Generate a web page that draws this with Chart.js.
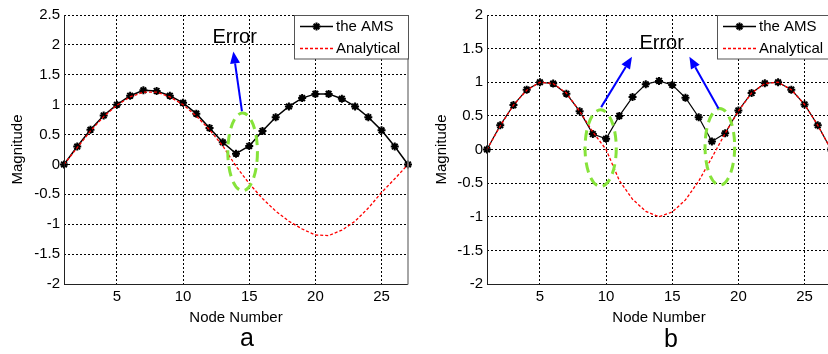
<!DOCTYPE html>
<html>
<head>
<meta charset="utf-8">
<script src="https://cdn.jsdelivr.net/npm/chart.js@4.4.0/dist/chart.umd.min.js"></script>
<style>
html, body { margin: 0; padding: 0; background: #fff; overflow: hidden; width: 828px; height: 354px; }
canvas { position: absolute; top: 0; }
#chartA { left: 0; }
#chartB { left: 414px; }
.panel-label { position: absolute; font: 25px "Liberation Sans", Arial, sans-serif; color: #000; transform: translate(-50%, -50%); line-height: normal; }
</style>
</head>
<body>
<canvas id="chartA" width="414" height="354"></canvas>
<canvas id="chartB" width="423" height="354"></canvas>
<div class="panel-label" style="left:247px;top:337px">a</div>
<div class="panel-label" style="left:671px;top:338px">b</div>
<script>
// ---- data ----
const nodes = [1, 2, 3, 4, 5, 6, 7, 8, 9, 10, 11, 12, 13, 14, 15, 16, 17, 18, 19, 20, 21, 22, 23, 24, 25, 26, 27];
const xTicks = [5, 10, 15, 20, 25];
const yTicksA = [-2, -1.5, -1, -0.5, 0, 0.5, 1, 1.5, 2, 2.5];
const yTicksB = [-2, -1.5, -1, -0.5, 0, 0.5, 1, 1.5, 2];

const amsA = [0, 0.3, 0.58, 0.82, 1.0, 1.15, 1.24, 1.23, 1.15, 1.03, 0.85, 0.61, 0.37, 0.18, 0.31, 0.56, 0.79, 0.97, 1.11, 1.18, 1.18, 1.1, 0.97, 0.79, 0.57, 0.3, 0];
const analyticalA = [0, 0.28, 0.56, 0.8, 0.99, 1.13, 1.21, 1.21, 1.13, 1.0, 0.81, 0.58, 0.31, -0.03, -0.32, -0.57, -0.78, -0.95, -1.08, -1.18, -1.19, -1.1, -0.95, -0.73, -0.47, -0.24, 0];

const amsB = [0, 0.36, 0.66, 0.89, 1.0, 0.98, 0.83, 0.57, 0.23, 0.16, 0.5, 0.78, 0.97, 1.02, 0.96, 0.77, 0.48, 0.12, 0.24, 0.58, 0.84, 0.985, 1.0, 0.89, 0.67, 0.36, 0];
const analyticalB = [0, 0.35, 0.66, 0.88, 1.0, 0.98, 0.84, 0.57, 0.26, 0, -0.46, -0.74, -0.92, -1.0, -0.93, -0.75, -0.47, -0.12, 0.24, 0.57, 0.84, 0.98, 1.0, 0.89, 0.67, 0.36, 0];

const seriesNames = ['the AMS', 'Analytical'];

// annotation spots, in data units
const notesA = {
    text: { x: 13.9, y: 2.12 },
    arrows: [{ from: [14.45, 0.89], to: [13.8, 1.89] }],
    ellipses: [{ x: 14.5, y: 0.21, rx: 1.12, ry: 0.65 }]
};
const notesB = {
    text: { x: 14.2, y: 1.58 },
    arrows: [{ from: [9.63, 0.63], to: [11.96, 1.38] }, { from: [18.5, 0.61], to: [16.3, 1.38] }],
    ellipses: [{ x: 9.59, y: 0.02, rx: 1.18, ry: 0.57 }, { x: 18.6, y: 0.04, rx: 1.12, ry: 0.57 }]
};

const FONT = '"Liberation Sans", Arial, sans-serif';

// ---- plugin: axis box, legend, annotations ----
const decorPlugin = {
    id: 'decor',
    afterDraw(chart, args, opts) {
        const { ctx, chartArea: a, scales: { x, y } } = chart;
        ctx.save();

        // axes box
        ctx.setLineDash([]);
        ctx.strokeStyle = '#222';
        ctx.lineWidth = 1;
        ctx.beginPath();
        ctx.moveTo(a.left + 0.5, a.top);
        ctx.lineTo(a.left + 0.5, a.bottom + 0.5);
        ctx.lineTo(a.right, a.bottom + 0.5);
        ctx.stroke();
        ctx.strokeStyle = '#888';
        ctx.lineWidth = 1.5;
        ctx.beginPath();
        ctx.moveTo(a.right, a.top);
        ctx.lineTo(a.right, a.bottom + 0.5);
        ctx.stroke();

        // green dashed ellipses
        ctx.strokeStyle = '#86e33a';
        ctx.lineWidth = 3;
        ctx.setLineDash([10, 6]);
        opts.notes.ellipses.forEach(e => {
            const cx = x.getPixelForValue(e.x), cy = y.getPixelForValue(e.y);
            const rx = Math.abs(x.getPixelForValue(e.x + e.rx) - cx);
            const ry = Math.abs(y.getPixelForValue(e.y + e.ry) - cy);
            ctx.beginPath();
            ctx.ellipse(cx, cy, rx, ry, 0, 0, Math.PI * 2);
            ctx.stroke();
        });

        // blue arrows
        ctx.setLineDash([]);
        ctx.strokeStyle = '#0000ff';
        ctx.fillStyle = '#0000ff';
        ctx.lineWidth = 2;
        opts.notes.arrows.forEach(ar => {
            const x1 = x.getPixelForValue(ar.from[0]), y1 = y.getPixelForValue(ar.from[1]);
            const x2 = x.getPixelForValue(ar.to[0]), y2 = y.getPixelForValue(ar.to[1]);
            const ang = Math.atan2(y2 - y1, x2 - x1);
            const hl = 12, hw = 5;
            const bx = x2 - hl * Math.cos(ang), by = y2 - hl * Math.sin(ang);
            ctx.beginPath();
            ctx.moveTo(x1, y1);
            ctx.lineTo(bx, by);
            ctx.stroke();
            ctx.beginPath();
            ctx.moveTo(x2, y2);
            ctx.lineTo(bx + hw * Math.sin(ang), by - hw * Math.cos(ang));
            ctx.lineTo(bx - hw * Math.sin(ang), by + hw * Math.cos(ang));
            ctx.closePath();
            ctx.fill();
        });

        // "Error" label
        ctx.fillStyle = '#000';
        ctx.font = '20px ' + FONT;
        ctx.textAlign = 'center';
        ctx.textBaseline = 'middle';
        ctx.fillText('Error', x.getPixelForValue(opts.notes.text.x), y.getPixelForValue(opts.notes.text.y));

        // legend box
        const bw = 114, bh = 43.5;
        const bl = a.right - bw, bt = a.top;
        ctx.fillStyle = '#fff';
        ctx.fillRect(bl, bt, bw, bh);
        ctx.strokeStyle = '#555';
        ctx.lineWidth = 1;
        ctx.strokeRect(bl + 0.5, bt + 0.5, bw, bh);

        const rows = [bt + 11.5, bt + 33.5];
        const lx1 = bl + 6, lx2 = bl + 39;
        // AMS row
        ctx.strokeStyle = '#000';
        ctx.lineWidth = 1.5;
        ctx.beginPath();
        ctx.moveTo(lx1, rows[0]);
        ctx.lineTo(lx2, rows[0]);
        ctx.stroke();
        ctx.fillStyle = '#000';
        ctx.lineWidth = 2;
        Chart.helpers.drawPoint(ctx, { pointStyle: 'star', radius: 4, rotation: 0, borderWidth: 2 }, (lx1 + lx2) / 2, rows[0]);
        // Analytical row
        ctx.strokeStyle = '#ff0000';
        ctx.lineWidth = 1.3;
        ctx.setLineDash([3, 2]);
        ctx.beginPath();
        ctx.moveTo(lx1, rows[1]);
        ctx.lineTo(lx2, rows[1]);
        ctx.stroke();
        ctx.setLineDash([]);

        ctx.fillStyle = '#000';
        ctx.font = '15px ' + FONT;
        ctx.textAlign = 'left';
        ctx.fillText(seriesNames[0], bl + 42, rows[0]);
        ctx.fillText(seriesNames[1], bl + 42, rows[1]);

        ctx.restore();
    }
};

function buildChart(id, ams, analytical, yTicks, yWidth, titlePad, amsWidth, notes) {
    const font = { family: FONT, size: 15 };
    return new Chart(document.getElementById(id), {
        type: 'line',
        data: {
            datasets: [
                {
                    label: seriesNames[1],
                    data: nodes.map((n, i) => ({ x: n, y: analytical[i] })),
                    borderColor: '#ff0000',
                    borderWidth: 1.3,
                    borderDash: [3, 2],
                    pointRadius: 0,
                    tension: 0,
                    clip: false,
                    order: 0
                },
                {
                    label: seriesNames[0],
                    data: nodes.map((n, i) => ({ x: n, y: ams[i] })),
                    borderColor: '#000',
                    backgroundColor: '#000',
                    borderWidth: amsWidth,
                    pointStyle: 'star',
                    pointRadius: 4,
                    pointBorderWidth: 2,
                    pointBorderColor: '#000',
                    tension: 0,
                    clip: false,
                    order: 1
                }
            ]
        },
        options: {
            responsive: false,
            animation: false,
            layout: { padding: { left: 0, right: 2, top: 15, bottom: 27 } },
            plugins: {
                legend: { display: false },
                tooltip: { enabled: false },
                decor: { notes }
            },
            scales: {
                x: {
                    type: 'linear',
                    min: 1,
                    max: 27,
                    afterBuildTicks: s => { s.ticks = xTicks.map(v => ({ value: v })); },
                    afterFit: s => { s.height = 43; },
                    grid: { color: '#000', lineWidth: 1, drawTicks: false },
                    border: { display: false, dash: [2, 2] },
                    ticks: { color: '#000', font, padding: 4, maxRotation: 0, callback: v => String(v) },
                    title: { display: true, text: 'Node Number', color: '#000', font, padding: { top: 5, bottom: 0 } }
                },
                y: {
                    type: 'linear',
                    min: yTicks[0],
                    max: yTicks[yTicks.length - 1],
                    afterBuildTicks: s => { s.ticks = yTicks.map(v => ({ value: v })); },
                    afterFit: s => { s.width = yWidth; },
                    grid: { color: '#000', lineWidth: 1, drawTicks: false },
                    border: { display: false, dash: [2, 2] },
                    ticks: { color: '#000', font, padding: 4, callback: v => String(v) },
                    title: { display: true, text: 'Magnitude', color: '#000', font, padding: { top: titlePad, bottom: 0 } }
                }
            }
        },
        plugins: [decorPlugin]
    });
}

buildChart('chartA', amsA, analyticalA, yTicksA, 64, 9, 1.5, notesA);
buildChart('chartB', amsB, analyticalB, yTicksB, 73, 18.5, 1.2, notesB);
</script>
</body>
</html>
